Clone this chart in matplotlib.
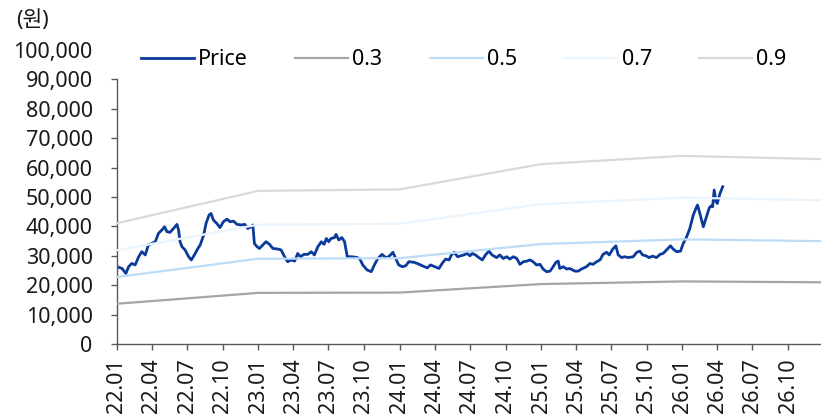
import pandas as pd
import matplotlib
matplotlib.use("Agg")
import matplotlib.pyplot as plt
import matplotlib.dates as mdates
from matplotlib.ticker import FuncFormatter

plt.rcParams["font.family"] = ["Noto Sans", "Noto Sans CJK KR", "DejaVu Sans"]

# PBR band lines (yearly BPS break points)
band_dates = ["2022-01-01", "2023-01-01", "2024-01-01", "2025-01-01", "2026-01-01", "2026-12-25"]
band_03 = [13700, 17400, 17500, 20400, 21300, 21000]
band_05 = [22800, 29000, 29200, 34000, 35600, 35000]
band_07 = [31900, 40600, 40900, 47600, 49800, 48900]
band_09 = [41100, 52100, 52600, 61200, 64000, 62900]

# share price
price_dates = [
    "2022-01-01", "2022-01-14", "2022-01-24", "2022-01-31", "2022-02-08", "2022-02-17",
    "2022-02-26", "2022-03-06", "2022-03-15", "2022-03-23", "2022-04-01", "2022-04-10",
    "2022-04-18", "2022-04-27", "2022-05-04", "2022-05-10", "2022-05-18", "2022-05-27",
    "2022-06-05", "2022-06-09", "2022-06-13", "2022-06-18", "2022-06-26", "2022-07-05",
    "2022-07-12", "2022-07-20", "2022-07-29", "2022-08-04", "2022-08-13", "2022-08-19",
    "2022-08-27", "2022-09-01", "2022-09-07", "2022-09-16", "2022-09-24", "2022-10-03",
    "2022-10-12", "2022-10-20", "2022-10-29", "2022-11-07", "2022-11-18", "2022-11-27",
    "2022-12-05", "2022-12-14", "2022-12-18", "2022-12-22", "2022-12-29", "2023-01-04",
    "2023-01-13", "2023-01-21", "2023-01-30", "2023-02-08", "2023-02-21", "2023-03-01",
    "2023-03-10", "2023-03-18", "2023-03-27", "2023-04-05", "2023-04-13", "2023-04-20",
    "2023-04-29", "2023-05-09", "2023-05-18", "2023-05-26", "2023-06-04", "2023-06-13",
    "2023-06-20", "2023-06-26", "2023-07-02", "2023-07-08", "2023-07-17", "2023-07-21",
    "2023-07-28", "2023-08-05", "2023-08-12", "2023-08-19", "2023-08-29", "2023-09-11",
    "2023-09-20", "2023-09-28", "2023-10-09", "2023-10-20", "2023-10-28", "2023-11-06",
    "2023-11-17", "2023-11-26", "2023-12-04", "2023-12-15", "2023-12-22", "2023-12-30",
    "2024-01-08", "2024-01-17", "2024-01-25", "2024-02-07", "2024-02-16", "2024-02-29",
    "2024-03-13", "2024-03-21", "2024-04-01", "2024-04-12", "2024-04-20", "2024-04-29",
    "2024-05-08", "2024-05-14", "2024-05-21", "2024-05-30", "2024-06-07", "2024-06-15",
    "2024-06-24", "2024-07-01", "2024-07-07", "2024-07-15", "2024-07-24", "2024-08-02",
    "2024-08-10", "2024-08-19", "2024-08-27", "2024-09-08", "2024-09-16", "2024-09-25",
    "2024-10-04", "2024-10-12", "2024-10-21", "2024-10-30", "2024-11-07", "2024-11-16",
    "2024-11-25", "2024-12-03", "2024-12-11", "2024-12-20", "2024-12-29", "2025-01-06",
    "2025-01-15", "2025-01-24", "2025-02-01", "2025-02-08", "2025-02-14", "2025-02-18",
    "2025-02-27", "2025-03-08", "2025-03-16", "2025-03-29", "2025-04-07", "2025-04-15",
    "2025-04-28", "2025-05-07", "2025-05-15", "2025-05-24", "2025-06-02", "2025-06-10",
    "2025-06-19", "2025-06-26", "2025-07-05", "2025-07-13", "2025-07-19", "2025-07-28",
    "2025-08-05", "2025-08-14", "2025-08-27", "2025-09-05", "2025-09-13", "2025-09-20",
    "2025-09-29", "2025-10-07", "2025-10-16", "2025-10-26", "2025-11-04", "2025-11-12",
    "2025-11-21", "2025-12-01", "2025-12-08", "2025-12-17", "2025-12-27", "2026-01-03",
    "2026-01-12", "2026-01-20", "2026-01-29", "2026-02-05", "2026-02-09", "2026-02-15",
    "2026-02-24", "2026-03-04", "2026-03-11", "2026-03-16", "2026-03-20", "2026-03-24",
    "2026-03-29", "2026-04-01", "2026-04-08", "2026-04-15",
]
price_values = [
    26300, 25700, 24000, 26300, 27400, 26900,
    29700, 31400, 30300, 33700, 34200, 34800,
    37600, 38800, 39900, 38200, 38000, 39300,
    40700, 38800, 34800, 33100, 32000, 29700,
    28600, 30300, 32500, 33700, 37100, 41000,
    43900, 44400, 42200, 41000, 39600, 41600,
    42500, 41600, 41800, 40700, 40500, 40700,
    39300, 39900, 40500, 34200, 33100, 32500,
    33700, 34800, 33900, 32500, 32300, 32000,
    29700, 28000, 28600, 28200, 30800, 29700,
    30500, 30500, 31400, 30300, 33100, 34800,
    33900, 35900, 34800, 35900, 36200, 37300,
    35400, 36200, 34800, 29700, 29700, 29500,
    29100, 26900, 25200, 24600, 26900, 29100,
    30500, 29400, 29700, 31200, 29100, 26900,
    26300, 26600, 28000, 27800, 27400, 26600,
    25900, 26900, 26300, 25700, 27400, 28900,
    28600, 30300, 31200, 29700, 30000, 30300,
    30800, 30000, 30800, 30300, 29400, 28600,
    30300, 31600, 30300, 29400, 30300, 29100,
    29700, 28900, 29700, 29100, 27100, 28000,
    28200, 28600, 28000, 26900, 27100, 25500,
    24600, 24800, 26300, 27800, 28200, 25700,
    26300, 25500, 25700, 24800, 24800, 25500,
    26300, 27400, 27100, 28000, 28600, 30500,
    31200, 30300, 32300, 33400, 30300, 29400,
    29700, 29400, 29700, 31200, 31600, 30300,
    30000, 29400, 29900, 29400, 30500, 30800,
    32000, 33400, 32300, 31400, 31600, 34200,
    36500, 39300, 43900, 46200, 47300, 44400,
    39900, 43300, 46200, 47000, 46700, 52400,
    48400, 47800, 51200, 53500,
]

series_labels = ["Price", "0.3", "0.5", "0.7", "0.9"]
y_ticks = list(range(0, 100001, 10000))
fs = 15.5

fig = plt.figure(figsize=(8.21, 4.17), dpi=100)
ax = fig.add_axes([0.1425, 0.175, 0.8575, 0.705])

bd = pd.to_datetime(band_dates)
pdt = pd.to_datetime(price_dates)

ax.plot(pdt, price_values, color="#0a3a9a", lw=2.0, label=series_labels[0], zorder=2)
ax.plot(bd, band_03, color="#a6a6a6", lw=1.6, label=series_labels[1], zorder=3)
ax.plot(bd, band_05, color="#bddcf8", lw=1.6, label=series_labels[2], zorder=3)
ax.plot(bd, band_07, color="#eaf4fd", lw=1.6, label=series_labels[3], zorder=3)
ax.plot(bd, band_09, color="#d9d9d9", lw=1.6, label=series_labels[4], zorder=3)

ax.set_xlim(pd.Timestamp("2022-01-01"), pd.Timestamp("2026-12-25"))
ax.set_ylim(0, 100000)
ax.set_yticks(y_ticks)
ax.yaxis.set_major_formatter(FuncFormatter(lambda v, p: f"{int(v):,}"))
ax.xaxis.set_major_locator(mdates.MonthLocator(bymonth=[1, 4, 7, 10]))
ax.xaxis.set_major_formatter(mdates.DateFormatter("%y.%m"))

for s in ["top", "right"]:
    ax.spines[s].set_visible(False)
for s in ["left", "bottom"]:
    ax.spines[s].set_color("#595959")
    ax.spines[s].set_linewidth(1.0)
ax.spines["left"].set_bounds(0, 90000)

ax.tick_params(axis="both", colors="#595959", length=4.5, width=1.0,
               labelcolor="#1a1a1a", labelsize=fs)
ax.tick_params(axis="y", pad=13)
ax.tick_params(axis="x", rotation=90, pad=6)
ax.yaxis.get_major_ticks()[-1].tick1line.set_visible(False)

fig.text(0.02, 0.952, "(원)", fontsize=fs, color="#1a1a1a", va="center", ha="left")

ax.legend(loc="center left", bbox_to_anchor=(0.172, 0.857), bbox_transform=fig.transFigure,
          ncol=5, frameon=False, fontsize=fs, handlelength=2.45, handletextpad=0.2,
          columnspacing=2.2, borderaxespad=0, borderpad=0)

fig.savefig("out.png", dpi=100)
